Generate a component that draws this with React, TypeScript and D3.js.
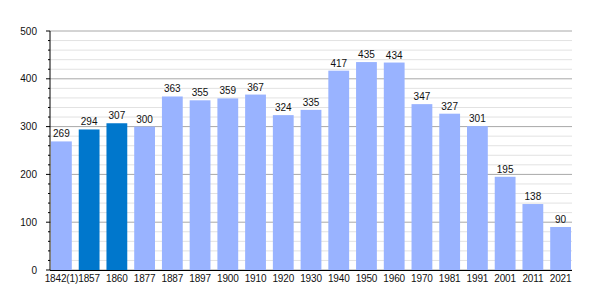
import React from "react";
import * as d3 from "d3";

const years = ["1842(1)", "1857", "1860", "1877", "1887", "1897", "1900", "1910", "1920", "1930", "1940", "1950", "1960", "1970", "1981", "1991", "2001", "2011", "2021"];
const population = [269, 294, 307, 300, 363, 355, 359, 367, 324, 335, 417, 435, 434, 347, 327, 301, 195, 138, 90];
const highlighted = ["1857", "1860"];
const majorTicks = [0, 100, 200, 300, 400, 500];

export default function App() {
  const W = 600, H = 300;
  const left = 50, right = 572, top = 31, bottom = 270;
  const x = d3.scaleBand<string>().domain(years).range([51, 571]).paddingInner(0.25).paddingOuter(0);
  const y = d3.scaleLinear().domain([0, 500]).range([bottom, top]);
  const minor = d3.range(0, 501, 20).filter((v) => v % 100 !== 0);
  const font = "Liberation Sans, Arial, sans-serif";
  return (
    <svg width={W} height={H} style={{ position: "absolute", left: 0, top: 0 }} fontFamily={font}>
      <rect width={W} height={H} fill="#fff" />
      {minor.map((v) => (
        <line key={"m" + v} x1={left} x2={right} y1={y(v)} y2={y(v)} stroke="#e2e2e2" strokeWidth={1} />
      ))}
      {majorTicks.map((v) => (
        <line key={"g" + v} x1={left} x2={right} y1={y(v)} y2={y(v)} stroke="#a8a8a8" strokeWidth={1} />
      ))}
      {years.map((yr, i) => (
        <g key={yr}>
          <rect x={x(yr)} y={y(population[i])} width={x.bandwidth()} height={bottom - y(population[i])}
            fill={highlighted.includes(yr) ? "#0077cc" : "#99b3ff"} />
          <text x={x(yr)! + x.bandwidth() / 2} y={y(population[i]) - 4} textAnchor="middle" fontSize={10} fill="#111">{population[i]}</text>
          <text x={x(yr)! + x.bandwidth() / 2} y={282} textAnchor="middle" fontSize={10} letterSpacing={-0.15} fill="#111">{yr}</text>
        </g>
      ))}
      <line x1={left} x2={left} y1={top} y2={bottom} stroke="#000" strokeWidth={1} />
      <line x1={left} x2={right} y1={bottom + 0.5} y2={bottom + 0.5} stroke="#000" strokeWidth={1} />
      {minor.map((v) => (
        <line key={"mt" + v} x1={left - 2} x2={left} y1={y(v)} y2={y(v)} stroke="#000" strokeWidth={1} />
      ))}
      {majorTicks.map((v) => (
        <g key={"t" + v}>
          <line x1={left - 4} x2={left} y1={y(v)} y2={y(v)} stroke="#000" strokeWidth={1} />
          <text x={37} y={y(v) + 3.5} textAnchor="end" fontSize={10} fill="#111">{v}</text>
        </g>
      ))}
    </svg>
  );
}
